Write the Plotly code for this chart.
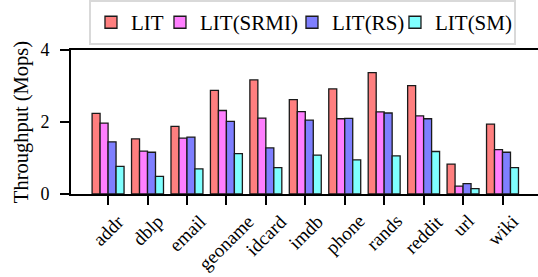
import plotly.graph_objects as go

categories = ["addr", "dblp", "email", "geoname", "idcard", "imdb", "phone", "rands", "reddit", "url", "wiki"]
lit = [2.24, 1.53, 1.88, 2.88, 3.17, 2.62, 2.92, 3.37, 3.01, 0.83, 1.94]
lit_srmi = [1.97, 1.19, 1.55, 2.32, 2.11, 2.29, 2.09, 2.28, 2.17, 0.22, 1.23]
lit_rs = [1.45, 1.16, 1.58, 2.02, 1.28, 2.05, 2.10, 2.25, 2.09, 0.29, 1.16]
lit_sm = [0.77, 0.49, 0.70, 1.12, 0.73, 1.08, 0.95, 1.06, 1.18, 0.15, 0.73]

series_names = ["LIT", "LIT(SRMI)", "LIT(RS)", "LIT(SM)"]
series_values = [lit, lit_srmi, lit_rs, lit_sm]
series_colors = ["#ff7f7f", "#ff7fff", "#7f7fff", "#7fffff"]
legend_widths = [24, 87, 58, 74]   # legend entry widths (px) to keep entries compact

fig = go.Figure()
for name, vals, col, lw in zip(series_names, series_values, series_colors, legend_widths):
    fig.add_trace(go.Bar(x=categories, y=vals, name=name, legendwidth=lw,
                         marker=dict(color=col, line=dict(color="#1a1a1a", width=1.3))))

font = "Liberation Serif, Times New Roman, serif"

# category labels, rotated and centred under each tick
for c in categories:
    fig.add_annotation(x=c, xref="x", y=0, yref="paper", yshift=-14,
                       text=c, textangle=-45, showarrow=False,
                       xanchor="center", yanchor="top",
                       font=dict(family=font, size=19, color="black"))

fig.update_layout(
    width=538, height=277,
    margin=dict(l=71, r=0, t=48, b=83),
    paper_bgcolor="white", plot_bgcolor="white",
    barmode="group", bargap=0.19, bargroupgap=0,
    font=dict(family=font, size=17, color="black"),
    showlegend=True,
    legend=dict(orientation="h", x=0.0385, xanchor="left", y=1.034, yanchor="bottom",
                bordercolor="#d9d9d9", borderwidth=2, bgcolor="white",
                font=dict(family=font, size=21), itemwidth=30, tracegroupgap=0),
    xaxis=dict(range=[-0.94, 10.9], showline=True, linecolor="black", linewidth=2,
               mirror=True, ticks="outside", ticklen=9, tickwidth=2, tickcolor="black",
               showticklabels=False, showgrid=False, automargin=False),
    yaxis=dict(range=[0, 4], tickvals=[0, 2, 4], showline=True, linecolor="black", linewidth=2,
               ticks="outside", ticklen=9, tickwidth=2, tickcolor="black", showgrid=False,
               zeroline=False, tickfont=dict(family=font, size=18), automargin=False,
               ticklabelstandoff=7,
               title=dict(text="Throughput (Mops)", font=dict(family=font, size=20.5), standoff=6)),
)
fig.write_html("out.html", config={"displayModeBar": False},
               post_script="document.body.style.margin='0px';")
